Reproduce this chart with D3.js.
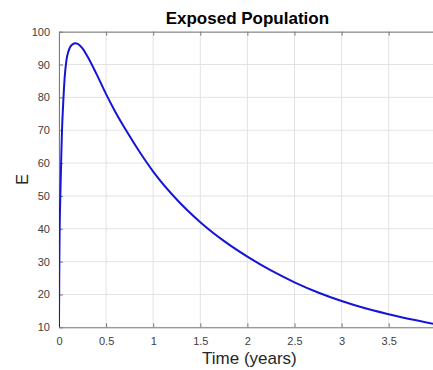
<!DOCTYPE html>
<html>
<head>
<meta charset="utf-8">
<script src="https://cdn.jsdelivr.net/npm/d3@7"></script>
<style>
  body { margin: 0; background: #fff; }
  svg { display: block; font-family: "Liberation Sans", Arial, sans-serif; }
</style>
</head>
<body>
<svg></svg>
<script>
// values
let timeYears = [0, 0.002, 0.004, 0.007, 0.01, 0.014, 0.02, 0.025, 0.032, 0.046, 0.06, 0.08, 0.1, 0.12,
                 0.15, 0.17, 0.2, 0.25, 0.3, 0.4, 0.5, 0.6, 0.72, 0.86, 1, 1.25, 1.5, 1.75, 2,
                 2.25, 2.5, 2.75, 3, 3.25, 3.5, 3.75, 4]
let exposed = [10, 22, 31, 40, 45, 50, 57, 63, 70, 79, 86, 91.5, 94, 95.4,
               96.3, 96.5, 96.3, 94.9, 92.6, 87, 81, 75.5, 69.6, 63.2, 57.4, 48.9, 42, 36.3, 31.5,
               27.3, 23.7, 20.6, 18, 15.8, 14, 12.35, 10.9]
let xTicks = [0, 0.5, 1, 1.5, 2, 2.5, 3, 3.5]
let yTicks = [10, 20, 30, 40, 50, 60, 70, 80, 90, 100]

let width = 433
let height = 370
let plotLeft = 59
let plotRight = 435.8
let plotTop = 31.7
let plotBottom = 327.3

let xScale = d3.scaleLinear()
                .domain([0, 4])
                .range([plotLeft, plotRight])

let yScale = d3.scaleLinear()
                .domain([10, 100])
                .range([plotBottom, plotTop])

let svg = d3.select('svg')
    .attr('width', width)
    .attr('height', height)

svg.append('defs')
  .append('clipPath')
    .attr('id', 'plot')
  .append('rect')
    .attr('x', plotLeft)
    .attr('y', plotTop)
    .attr('width', plotRight - plotLeft)
    .attr('height', plotBottom - plotTop)

// grid
svg.append('g')
  .selectAll('line')
  .data(xTicks)
  .enter()
  .append('line')
    .attr('x1', d => xScale(d))
    .attr('x2', d => xScale(d))
    .attr('y1', plotTop)
    .attr('y2', plotBottom)
    .attr('stroke', '#e3e3e3')

svg.append('g')
  .selectAll('line')
  .data(yTicks)
  .enter()
  .append('line')
    .attr('x1', plotLeft)
    .attr('x2', plotRight)
    .attr('y1', d => yScale(d))
    .attr('y2', d => yScale(d))
    .attr('stroke', '#e3e3e3')

let xAxis = d3.axisBottom(xScale)
              .tickValues(xTicks)
              .tickSizeInner(-4)
              .tickSizeOuter(0)
              .tickPadding(10)
              .tickFormat(d3.format('~g'))

let xAxisTop = d3.axisTop(xScale)
              .tickValues(xTicks)
              .tickSizeInner(-4)
              .tickSizeOuter(0)
              .tickFormat('')

let yAxis = d3.axisLeft(yScale)
              .tickValues(yTicks)
              .tickSizeInner(-4)
              .tickSizeOuter(0)
              .tickPadding(9)

function styleAxis (g) {
  g.select('.domain').attr('stroke', '#7a7a7a')
  g.selectAll('.tick line').attr('stroke', '#7a7a7a')
  g.selectAll('.tick text')
    .attr('fill', '#404040')
    .style('font-size', '11px')
    .style('font-family', '"Liberation Sans", Arial, sans-serif')
}

svg.append('g')
    .attr('transform', `translate(0, ${plotBottom})`)
    .call(xAxis)
    .call(styleAxis)

svg.append('g')
    .attr('transform', `translate(0, ${plotTop})`)
    .call(xAxisTop)
    .call(styleAxis)

svg.append('g')
    .attr('transform', `translate(${plotLeft}, 0)`)
    .call(yAxis)
    .call(styleAxis)

let line = d3.line()
              .x(d => xScale(d[0]))
              .y(d => yScale(d[1]))
              .curve(d3.curveMonotoneX)

svg.append('path')
    .datum(d3.zip(timeYears, exposed))
    .attr('clip-path', 'url(#plot)')
    .attr('fill', 'none')
    .attr('stroke', '#1515d8')
    .attr('stroke-width', 2)
    .attr('d', line)

svg.append('text')
    .attr('x', (plotLeft + plotRight) / 2)
    .attr('y', 24)
    .style('text-anchor', 'middle')
    .style('font-size', '17px')
    .style('font-weight', 'bold')
    .attr('fill', '#000')
    .text('Exposed Population')

svg.append('text')
    .attr('x', (plotLeft + plotRight) / 2 + 2)
    .attr('y', 364)
    .style('text-anchor', 'middle')
    .style('font-size', '17px')
    .attr('fill', '#262626')
    .text('Time (years)')

svg.append('text')
    .attr('transform', 'rotate(-90)')
    .attr('x', -(plotTop + plotBottom) / 2)
    .attr('y', 27.5)
    .style('text-anchor', 'middle')
    .style('font-size', '16px')
    .attr('fill', '#262626')
    .text('E')
</script>
</body>
</html>
